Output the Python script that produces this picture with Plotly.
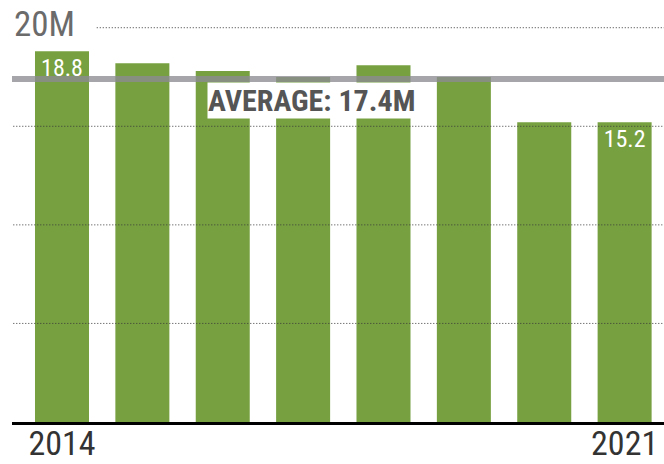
import plotly.graph_objects as go

# Yearly totals, in millions
years = ["2014", "2015", "2016", "2017", "2018", "2019", "2020", "2021"]
viewers_m = [18.8, 18.2, 17.8, 17.5, 18.1, 17.5, 15.2, 15.2]
bar_labels = ["18.8", "", "", "", "", "", "", "15.2"]
average_m = 17.4
grid_values = [5, 10, 15]
top_value = 20
top_label = "20M"
tick_years = ["2014", "2021"]

FONT = "Liberation Sans Narrow, Arial Narrow, Roboto Condensed, DejaVu Sans Condensed, sans-serif"
GREEN = "#77a040"

fig = go.Figure(
    go.Bar(
        x=years,
        y=viewers_m,
        marker=dict(color=GREEN, line=dict(width=0)),
        text=bar_labels,
        textposition="inside",
        insidetextanchor="end",
        textangle=0,
        textfont=dict(family=FONT, size=24, color="white"),
        hoverinfo="skip",
    )
)

shapes = []
# dotted reference lines drawn over the bars
for v in grid_values:
    shapes.append(dict(type="line", xref="paper", yref="y", x0=0.002, x1=1, y0=v, y1=v,
                       line=dict(color="#3a3a3a", width=1, dash="1px,2px"), layer="above"))
shapes.append(dict(type="line", xref="paper", yref="y", x0=0.13, x1=1, y0=top_value, y1=top_value,
                   line=dict(color="#3a3a3a", width=1, dash="1px,2px"), layer="above"))
# average line
shapes.append(dict(type="line", xref="paper", yref="y", x0=0, x1=1, y0=average_m, y1=average_m,
                   line=dict(color="rgba(140,140,146,0.78)", width=6), layer="above"))

annotations = [
    dict(text=top_label, xref="paper", yref="y", x=0, y=top_value, xanchor="left", yanchor="middle",
         yshift=3, showarrow=False, font=dict(family=FONT, size=35, color="#6b6b6b")),
    dict(text=f"AVERAGE: {average_m}M", xref="x", yref="y", x=3.1, y=average_m,
         xanchor="center", yanchor="top", yshift=-3, showarrow=False, bgcolor="white",
         borderpad=0, font=dict(family=FONT, size=30, color="#555555", weight="bold")),
]

fig.update_layout(
    width=664,
    height=464,
    margin=dict(l=12, r=0, t=8, b=42, autoexpand=False),
    paper_bgcolor="white",
    plot_bgcolor="white",
    bargap=0.328,
    showlegend=False,
    shapes=shapes,
    annotations=annotations,
    xaxis=dict(
        type="category",
        range=[-0.622, 7.49],
        tickmode="array",
        tickvals=tick_years,
        ticktext=tick_years,
        tickfont=dict(family=FONT, size=34, color="#333333"),
        ticklabelstandoff=-11,
        showgrid=False,
        showline=True,
        linecolor="black",
        linewidth=3,
        ticks="",
        automargin=False,
        fixedrange=True,
    ),
    yaxis=dict(
        range=[0, 21],
        showgrid=False,
        zeroline=False,
        showticklabels=False,
        showline=False,
        automargin=False,
        fixedrange=True,
    ),
)

fig.write_html("out.html")
